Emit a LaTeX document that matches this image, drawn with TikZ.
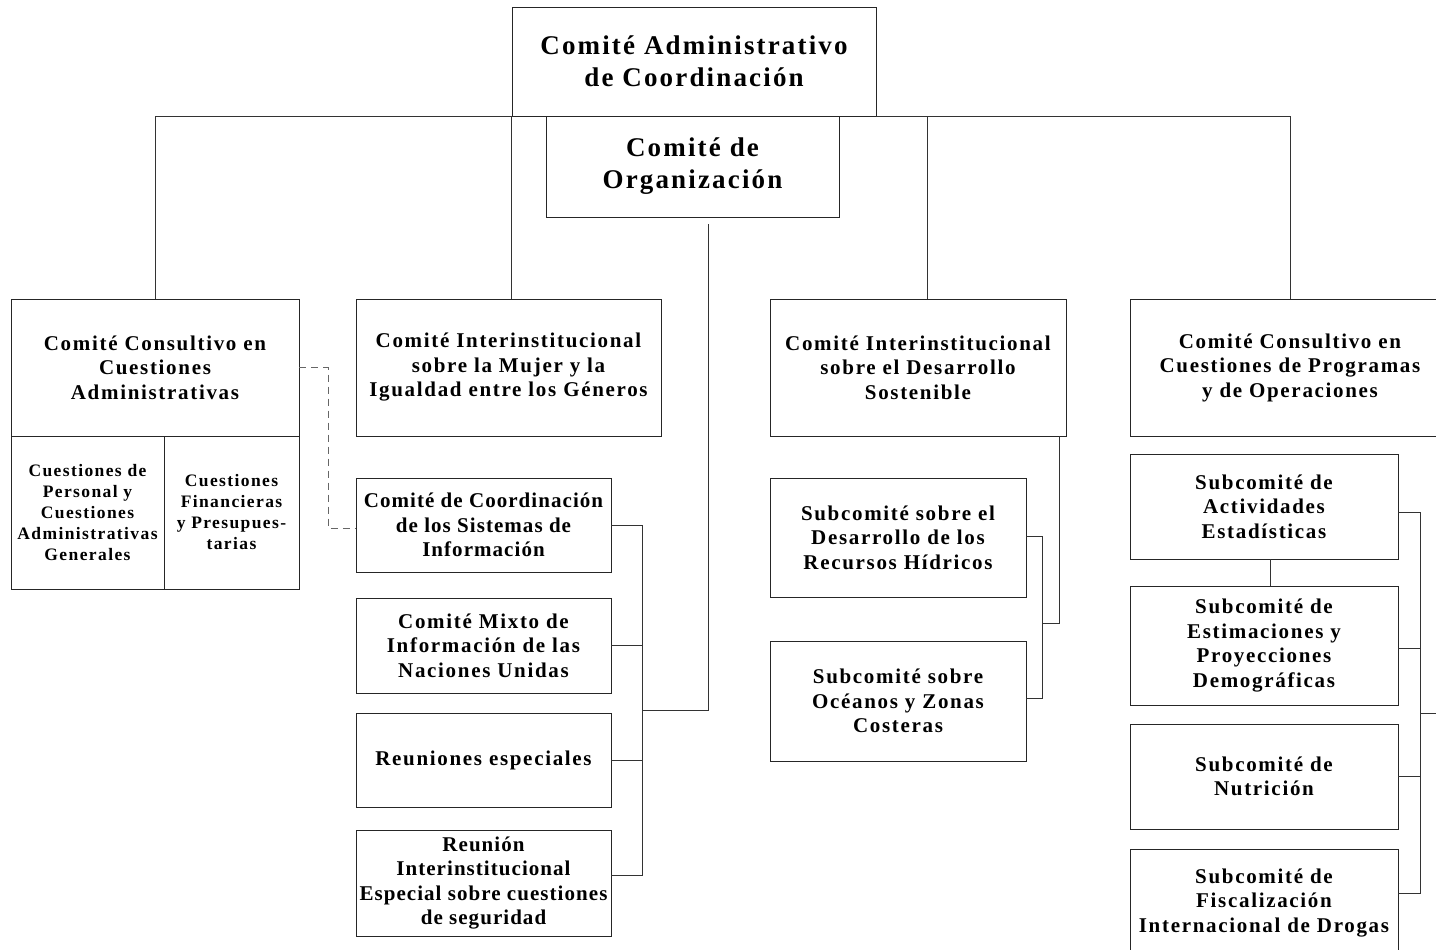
\documentclass[tikz,border=0pt]{standalone}
\usepackage{fontspec}
\setmainfont[LetterSpace=8]{Liberation Serif}
\newfontfamily\tightfont[LetterSpace=5]{Liberation Serif}
\usetikzlibrary{calc}

\tikzset{
  orgbox/.style={draw=black!85,line width=0.8pt,align=center,inner sep=0pt,
    font=\bfseries\fontsize{21}{24.5}\selectfont},
  tightbox/.style={orgbox,font=\tightfont\bfseries\fontsize{21}{24.5}\selectfont},
  bigbox/.style={orgbox,font=\bfseries\fontsize{27}{32}\selectfont},
  smallbox/.style={orgbox,font=\bfseries\fontsize{17.5}{21}\selectfont},
  link/.style={draw=black!80,line width=0.8pt}
}

\begin{document}
\begin{tikzpicture}[x=1pt,y=-1pt]
  \clip (0,0) rectangle (1436,950);
  \fill[white] (0,0) rectangle (1436,950);
  % top committees
  \node[bigbox,minimum width=364pt,minimum height=109pt] (cac) at (694,61.5)
    {Comité Administrativo\\de Coordinación};
  \node[bigbox,minimum width=293pt,minimum height=101pt,fill=white] (org) at (692.5,166.5)
    {Comité de\\Organización};
  % first row
  \node[orgbox,minimum width=288pt,minimum height=137pt] (cca) at (155,367.5)
    {Comité Consultivo en\\Cuestiones\\Administrativas};
  \node[smallbox,minimum width=153pt,minimum height=153pt] (per) at (87.5,512.5)
    {Cuestiones de\\Personal y\\Cuestiones\\Administrativas\\Generales};
  \node[smallbox,minimum width=135pt,minimum height=153pt] (fin) at (231.5,512.5)
    {Cuestiones\\Financieras\\y Presupues-\\tarias};
  \node[orgbox,minimum width=305pt,minimum height=137pt] (muj) at (508.5,367.5)
    {Comité Interinstitucional\\sobre la Mujer y la\\Igualdad entre los Géneros};
  \node[orgbox,minimum width=296pt,minimum height=137pt] (sos) at (918,367.5)
    {Comité Interinstitucional\\sobre el Desarrollo\\Sostenible};
  \node[orgbox,minimum width=320pt,minimum height=137pt] (pro) at (1290,367.5)
    {Comité Consultivo en\\Cuestiones de Programas\\y de Operaciones};
  % second column
  \node[tightbox,minimum width=255pt,minimum height=94pt] (sis) at (483.5,525)
    {Comité de Coordinación\\de los Sistemas de\\Información};
  \node[orgbox,minimum width=255pt,minimum height=95pt] (mix) at (483.5,645.5)
    {Comité Mixto de\\Información de las\\Naciones Unidas};
  \node[orgbox,minimum width=255pt,minimum height=94pt] (reu) at (483.5,760)
    {Reuniones especiales};
  \node[tightbox,minimum width=255pt,minimum height=106pt] (seg) at (483.5,883)
    {Reunión\\Interinstitucional\\Especial sobre cuestiones\\de seguridad};
  % third column
  \node[orgbox,minimum width=256pt,minimum height=119pt] (hid) at (898,537.5)
    {Subcomité sobre el\\Desarrollo de los\\Recursos Hídricos};
  \node[orgbox,minimum width=256pt,minimum height=120pt] (oce) at (898,701)
    {Subcomité sobre\\Océanos y Zonas\\Costeras};
  % fourth column
  \node[orgbox,minimum width=268pt,minimum height=105pt] (est) at (1264,506.5)
    {Subcomité de\\Actividades\\Estadísticas};
  \node[orgbox,minimum width=268pt,minimum height=119pt] (dem) at (1264,645.5)
    {Subcomité de\\Estimaciones y\\Proyecciones\\Demográficas};
  \node[orgbox,minimum width=268pt,minimum height=105pt] (nut) at (1264,776.5)
    {Subcomité de\\Nutrición};
  \node[orgbox,minimum width=268pt,minimum height=108pt] (dro) at (1264,903)
    {Subcomité de\\Fiscalización\\Internacional de Drogas};

  % main bus
  \draw[link] (cca.north) |- (cac.south west);
  \draw[link] (cac.south east) -| (pro.north);
  \draw[link] (cac.south west) -- (cac.south west |- muj.north);
  \draw[link] ([xshift=9pt]sos.north) -- ([xshift=9pt]sos.north |- cac.south);
  \draw[link,black!60,dash pattern=on 7pt off 5pt] (cca.east) -- ++(29,0) |- ([yshift=-3pt]sis.west);

  % brackets
  \coordinate (midbar) at (642,710);
  \draw[link] (sis.east) -- (sis.east -| midbar) -- ([yshift=8pt]seg.east -| midbar) -- ([yshift=8pt]seg.east);
  \draw[link] (mix.east) -- (mix.east -| midbar);
  \draw[link] (reu.east) -- (reu.east -| midbar);
  \draw[link] (midbar) -| ([xshift=16pt,yshift=-7pt]org.south);

  \coordinate (sosbar) at (1042,623);
  \draw[link] ([yshift=1.5pt]hid.east) -- ([yshift=1.5pt]hid.east -| sosbar) -- ([yshift=3pt]oce.east -| sosbar) -- ([yshift=3pt]oce.east);
  \draw[link] (sosbar) -| ([xshift=-7pt]sos.south east);

  \coordinate (probar) at (1420,713);
  \draw[link] ([xshift=6pt]est.south) -- ([xshift=6pt]dem.north);
  \draw[link] ([yshift=-5.5pt]est.east) -- ([yshift=-5.5pt]est.east -| probar) -- ([yshift=10pt]dro.east -| probar) -- ([yshift=10pt]dro.east);
  \draw[link] ([yshift=-2.5pt]dem.east) -- ([yshift=-2.5pt]dem.east -| probar);
  \draw[link] (nut.east) -- (nut.east -| probar);
  \draw[link] (probar) -- ++(20,0);
\end{tikzpicture}
\end{document}
